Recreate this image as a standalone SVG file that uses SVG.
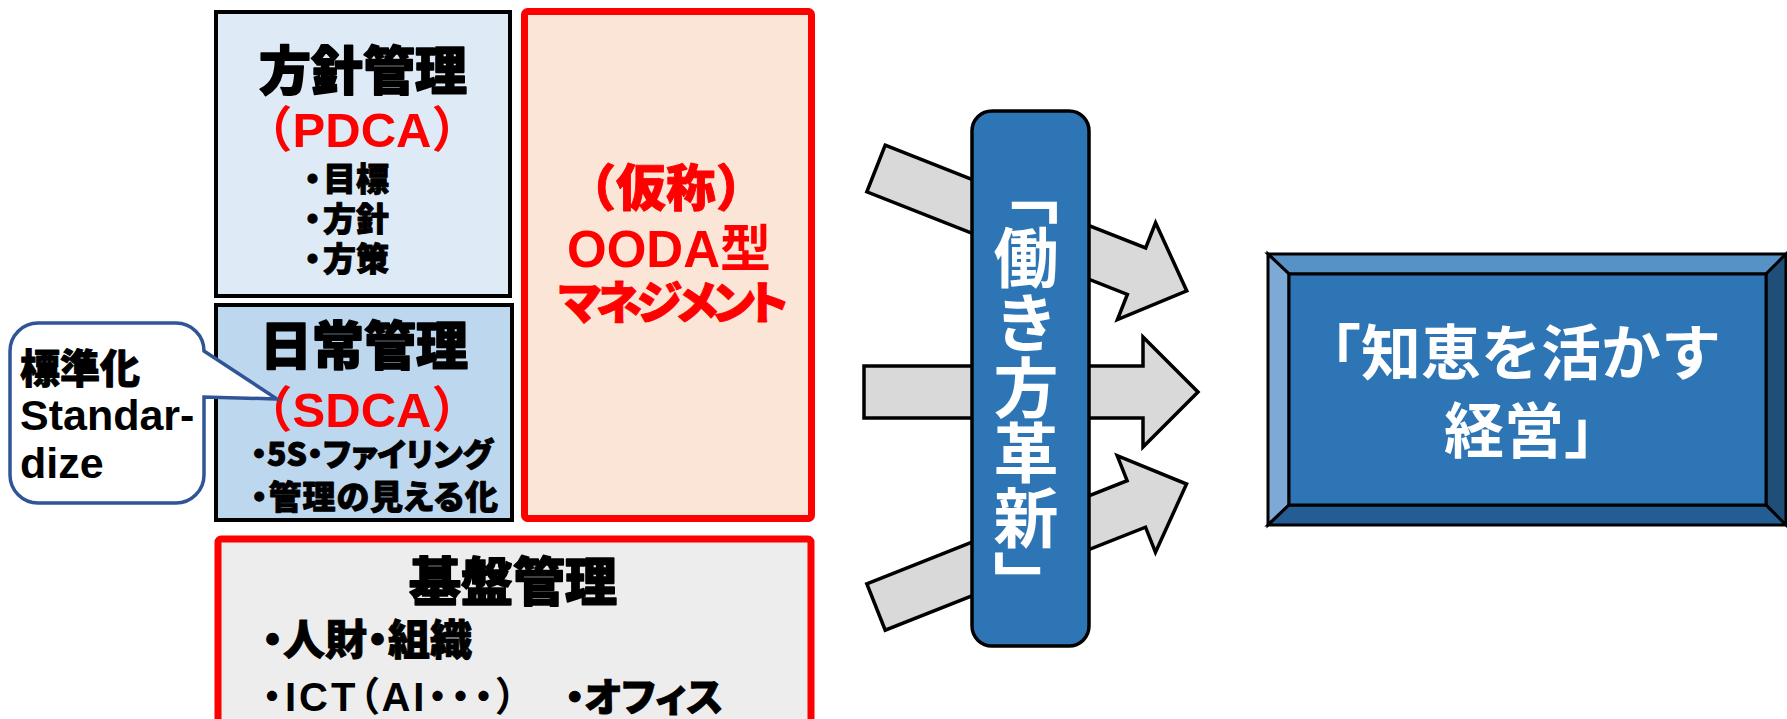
<svg xmlns="http://www.w3.org/2000/svg" width="1787" height="719" viewBox="0 0 1787 719">
<style>
.jp{font-family:"Noto Sans CJK JP","Liberation Sans",sans-serif;font-weight:900;fill:#000;stroke:#000;stroke-width:0.9;stroke-linejoin:round}
.hd{stroke-width:1.6}
.mix{font-family:"Liberation Sans","Noto Sans CJK JP",sans-serif;font-weight:700}
.red{fill:#FF0000}
.jp.red{stroke:#FF0000}
.wh{font-family:"Noto Sans CJK JP","Liberation Sans",sans-serif;font-weight:700;fill:#FFFFFF}
.palt{font-feature-settings:"palt" 1}
.arrow{fill:#D9D9D9;stroke:#000;stroke-width:3.5;stroke-linejoin:miter}
.bev{stroke:#000;stroke-width:3;stroke-linejoin:miter}
</style>
<rect width="1787" height="719" fill="#FFFFFF"/>

<g id="connectors">
<polygon class="arrow" transform="translate(876,168.5) rotate(21.5)" points="0,-25 280,-25 280,-52 334,0 280,52 280,25 0,25"/>
<polygon class="arrow" transform="translate(864,392)" points="0,-26 279,-26 279,-55 334,0 279,55 279,26 0,26"/>
<polygon class="arrow" transform="translate(876,607) rotate(-21.6)" points="0,-25 280,-25 280,-52 334,0 280,52 280,25 0,25"/>
</g>

<g id="hoshin">
<rect x="216" y="12" width="294" height="284" fill="#DEEBF7" stroke="#000" stroke-width="4"/>
<text class="jp hd" x="363" y="90" font-size="52" text-anchor="middle">方針管理</text>
<text class="mix red" x="362" y="147" font-size="49" text-anchor="middle">（PDCA）</text>
<text class="jp" x="296" y="191" font-size="33">・<tspan dx="-6">目標</tspan></text>
<text class="jp" x="296" y="231" font-size="33">・<tspan dx="-6">方針</tspan></text>
<text class="jp" x="296" y="271" font-size="33">・<tspan dx="-6">方策</tspan></text>
</g>

<g id="nichijo">
<rect x="216" y="305" width="296" height="215" fill="#BDD7EE" stroke="#000" stroke-width="4"/>
<text class="jp hd" x="364" y="365" font-size="52" text-anchor="middle">日常管理</text>
<text class="mix red" x="362" y="427" font-size="49" text-anchor="middle">（SDCA）</text>
<text class="jp palt" x="251" y="466" font-size="32">・5S・ファイリング</text>
<text class="jp palt" x="251" y="509" font-size="33" letter-spacing="1">・管理の見える化</text>
</g>

<g id="ooda">
<rect x="524.5" y="11.5" width="287" height="507" rx="3" fill="#FBE5D6" stroke="#FF0000" stroke-width="7"/>
<text class="jp red" x="666" y="206" font-size="50" text-anchor="middle">（仮称）</text>
<text class="mix red" x="669" y="267" font-size="51" text-anchor="middle">OODA型</text>
<text class="jp red palt" x="671" y="319" font-size="46" text-anchor="middle" letter-spacing="-5">マネジメント</text>
</g>

<g id="kiban">
<rect x="218" y="539" width="593" height="200" rx="3" fill="#EDEDED" stroke="#FF0000" stroke-width="7"/>
<text class="jp hd" x="513" y="601" font-size="52" text-anchor="middle">基盤管理</text>
<text class="jp palt" x="262" y="655" font-size="42">・人財・組織</text>
<text class="mix palt" x="262" y="711" font-size="40" letter-spacing="3">・ICT（AI・・・）</text>
<text class="jp palt" x="565" y="711" font-size="39">・オフィス</text>
</g>

<g id="callout">
<path d="M38,323 H176 A28,28 0 0 1 204,351 L277,399 L204,397 V475 A28,28 0 0 1 176,503 H38 A28,28 0 0 1 10,475 V351 A28,28 0 0 1 38,323 Z" fill="#FFFFFF" stroke="#2F5597" stroke-width="3.5"/>
<text class="jp" x="20" y="383" font-size="40">標準化</text>
<text class="mix" x="20" y="430" font-size="43">Standar-</text>
<text class="mix" x="20" y="478" font-size="43">dize</text>
</g>

<g id="hatarakikata">
<rect x="972" y="111" width="117" height="535" rx="20" fill="#2E75B6" stroke="#000" stroke-width="3.5"/>
<text class="wh" x="1026" y="160" font-size="65" writing-mode="vertical-rl">「働き方革新」</text>
</g>

<g id="chie">
<polygon class="bev" points="1268,254 1786,254 1766,274 1289,274" fill="#5792C6"/>
<polygon class="bev" points="1268,254 1289,274 1289,505 1268,525" fill="#7DA9D6"/>
<polygon class="bev" points="1786,254 1786,525 1766,505 1766,274" fill="#1F4E79"/>
<polygon class="bev" points="1268,525 1289,505 1766,505 1786,525" fill="#245D93"/>
<rect x="1289" y="274" width="477" height="231" fill="#2E75B6" stroke="#000" stroke-width="3"/>
<text class="wh" x="1301" y="375" font-size="60">「知恵を活かす</text>
<text class="wh" x="1444" y="453" font-size="60">経営」</text>
</g>
</svg>
